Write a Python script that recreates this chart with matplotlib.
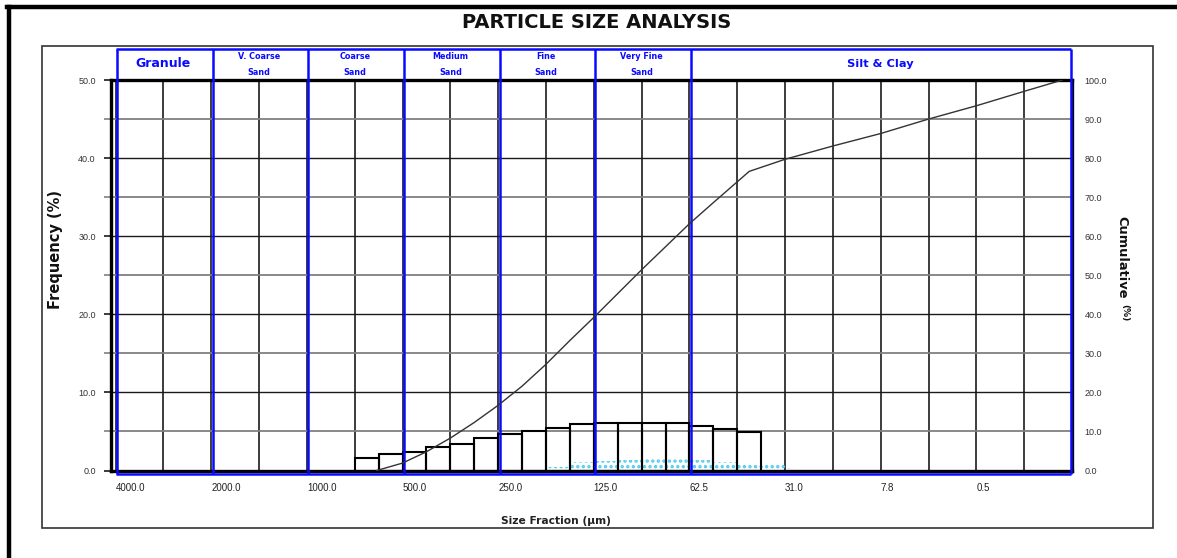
import matplotlib
matplotlib.use("Agg")
import matplotlib.pyplot as plt
import matplotlib.transforms as mtransforms
from matplotlib.lines import Line2D
from matplotlib.patches import Rectangle

W, H = 1177, 558

# size fraction axis (positions are evenly spaced in the original)
size_labels = ["4000.0", "2000.0", "1000.0", "500.0", "250.0", "125.0", "62.5", "31.0", "7.8", "0.5"]
size_pos = [0, 1, 2, 3, 4, 5, 6, 7, 8, 9]

# sediment classes
class_names = ["Granule", "V. Coarse\nSand", "Coarse\nSand", "Medium\nSand",
               "Fine\nSand", "Very Fine\nSand", "Silt & Clay"]
class_edges = [0, 1, 2, 3, 4, 5, 6, 9.985]

# frequency histogram, quarter-phi bins (left edges)
bin_left = [2.5, 2.75, 3.0, 3.25, 3.5, 3.75, 4.0, 4.25, 4.5, 4.75, 5.0, 5.25, 5.5, 5.75, 6.0, 6.25, 6.5]
freq = [1.57, 2.08, 2.42, 3.06, 3.45, 4.1, 4.7, 5.07, 5.5, 5.94, 6.1, 6.1, 6.1, 6.1, 5.76, 5.3, 4.9]
bin_w = 0.25

# cumulative curve (%)
cum_pos = [2.73, 3.0, 3.25, 3.5, 3.75, 4.0, 4.25, 4.5, 4.75, 5.0, 5.25, 5.5, 5.75, 6.0, 6.25,
           6.625, 7.0, 7.5, 8.0, 8.5, 9.0, 9.5, 9.9]
cum_val = [0.0, 1.9, 4.8, 8.3, 12.3, 16.7, 21.6, 27.2, 33.3, 39.2, 45.3, 51.4, 57.3, 63.2, 68.6,
           76.6, 79.7, 83.1, 86.3, 90.0, 93.4, 97.1, 100.0]

# faint dotted second distribution
dot_edges = [4.25, 4.5, 4.75, 5.0, 5.25, 5.5, 5.75, 6.0, 6.25, 6.5, 6.75, 7.0, 7.07]
dot_vals = [0.05, 0.4, 1.05, 1.2, 1.4, 1.45, 1.45, 1.4, 1.1, 1.0, 0.8, 0.3, 0.3]

plt.rcParams['hatch.linewidth'] = 1.6
blue = '#0a0aff'
boldfont = 'DejaVu Sans'
tickfont = 'Liberation Sans'

fig = plt.figure(figsize=(W / 100, H / 100), dpi=100)
fig.patch.set_facecolor('white')

# outer frame + inner chart box
fig.add_artist(Line2D([7 / W, 1], [1 - 7 / H, 1 - 7 / H], color='black', lw=3.2, transform=fig.transFigure))
fig.add_artist(Line2D([9 / W, 9 / W], [1 - 7 / H, 0], color='black', lw=3.2, transform=fig.transFigure))
fig.add_artist(Rectangle((42 / W, 1 - 528 / H), (1153 - 42) / W, (528 - 46) / H, fill=False,
                         edgecolor='#333333', lw=1.2, transform=fig.transFigure))

ax = fig.add_axes([111 / W, 1 - 470.5 / H, 961 / W, 390.5 / H])
ax.set_xlim(-0.048, 10.0)
ax.set_ylim(0, 50)

# grid
ax.set_xticks(size_pos)
ax.set_xticks([p + 0.5 for p in size_pos], minor=True)
ax.set_yticks([0, 10, 20, 30, 40, 50])
ax.set_yticks([5, 15, 25, 35, 45], minor=True)
ax.grid(axis='x', which='both', color='#1a1a1a', lw=1.2, zorder=0)
ax.grid(axis='y', which='major', color='#1a1a1a', lw=1.0, zorder=0)
ax.grid(axis='y', which='minor', color='#808080', lw=1.3, zorder=0)
ax.set_axisbelow(True)

ax.set_xticklabels(size_labels, fontsize=7, family=tickfont, color='#222222')
shift = mtransforms.ScaledTranslation(-3 / 100, 0, fig.dpi_scale_trans)
for lbl in ax.get_xticklabels():
    lbl.set_horizontalalignment('left')
    lbl.set_transform(lbl.get_transform() + shift)
ax.tick_params(axis='x', which='both', length=0, pad=9)
ax.set_yticklabels(['0.0', '10.0', '20.0', '30.0', '40.0', '50.0'], fontsize=6.5, family=tickfont, color='#333333')
ax.tick_params(axis='y', which='major', length=5, width=1.2, color='#1a1a1a', pad=6)
ax.tick_params(axis='y', which='minor', length=5, width=1.2, color='#808080')

for s in ax.spines.values():
    s.set_linewidth(2.4)
    s.set_color('black')
    s.set_zorder(4)

# dotted distribution
ax.fill_between(dot_edges, -0.35, dot_vals, step='post', facecolor='none', edgecolor='#4ccbf2',
                hatch='...', lw=0, zorder=1, clip_on=False)

# histogram
ax.bar(bin_left, freq, width=bin_w, align='edge', facecolor='none', edgecolor='black', lw=1.5, zorder=2)

# class boundaries and header
top = 54.0
ax.vlines([e + 0.015 for e in class_edges[:-1]] + [class_edges[-1]], -0.5, top, colors=blue, lw=1.8,
          zorder=5, clip_on=False)
ax.hlines([top, -0.5], class_edges[0], class_edges[-1], colors=blue, lw=1.8, zorder=5, clip_on=False)
for i, name in enumerate(class_names):
    cx = (class_edges[i] + class_edges[i + 1]) / 2
    if '\n' in name:
        l1, l2 = name.split('\n')
        ax.text(cx, 52.95, l1, ha='center', va='center', fontsize=5.8, fontweight='bold',
                family=boldfont, color=blue, clip_on=False)
        ax.text(cx, 51.0, l2, ha='center', va='center', fontsize=5.8, fontweight='bold',
                family=boldfont, color=blue, clip_on=False)
    else:
        ax.text(cx, 52.1, name, ha='center', va='center', fontsize=9 if name == 'Granule' else 8.2,
                fontweight='bold', family=boldfont, color=blue, clip_on=False)

# axis labels
ax.set_xlabel('Size Fraction (µm)', fontsize=7.7, fontweight='bold', family=boldfont, color='#222222')
ax.xaxis.set_label_coords(0.463, -0.1165)
ax.set_ylabel('Frequency (%)', fontsize=10.5, fontweight='bold', family=boldfont, color='#111111')
ax.yaxis.set_label_coords(-0.05, 0.565)

# cumulative axis
ax2 = ax.twinx()
ax2.set_ylim(0, 100)
ax2.set_yticks([0, 10, 20, 30, 40, 50, 60, 70, 80, 90, 100])
ax2.set_yticklabels(['%.1f' % v for v in range(0, 101, 10)], fontsize=6.5, family=tickfont, color='#333333')
ax2.tick_params(axis='y', length=0, pad=9)
for s in ax2.spines.values():
    s.set_visible(False)
ax2.plot(cum_pos, cum_val, color='#333333', lw=1.0, zorder=6)
ax2.set_ylabel('Cumulative', fontsize=9.4, fontweight='bold', family=boldfont, color='#111111', rotation=270)
ax2.yaxis.set_label_coords(1.0586, 0.5455)
ax2.text(1.0545, 0.405, '(%)', transform=ax2.transAxes, rotation=270, ha='center', va='center',
         fontsize=6.5, fontweight='bold', family=boldfont, color='#111111')

fig.text(597 / W, 1 - 22 / H, 'PARTICLE SIZE ANALYSIS', ha='center', va='center', fontsize=14,
         fontweight='bold', family=boldfont, color='#111111')

fig.savefig('out.png', dpi=100)
